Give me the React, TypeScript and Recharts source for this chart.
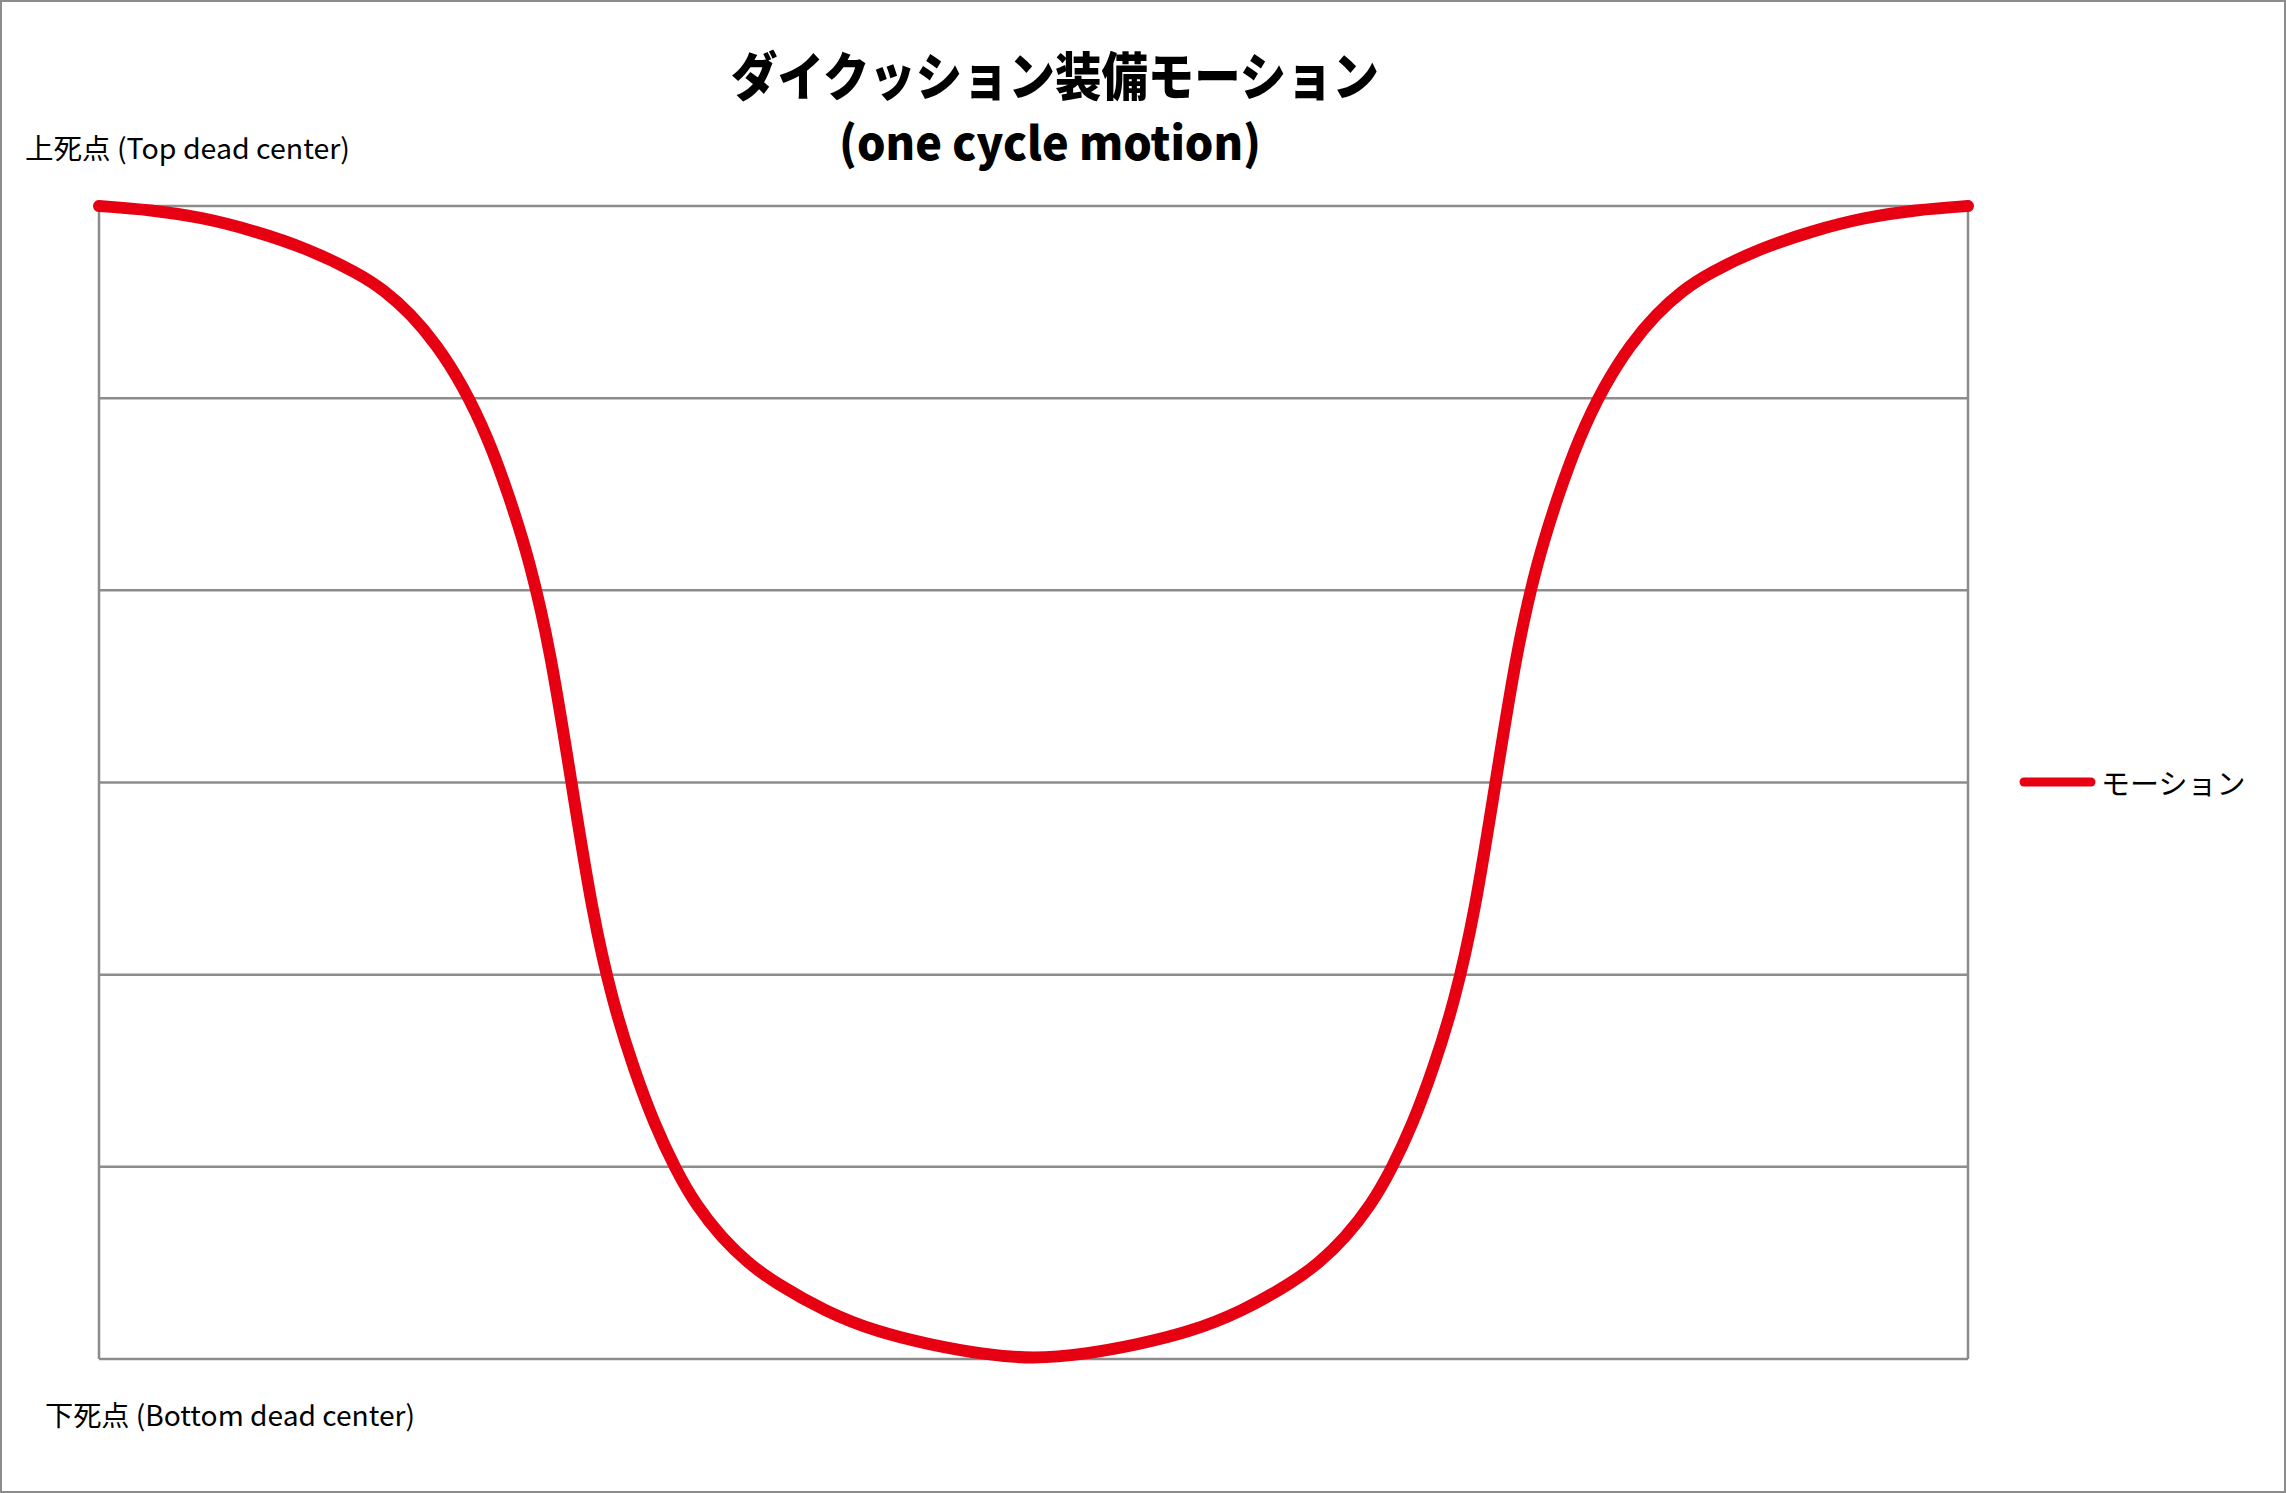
import React from 'react';
import { LineChart, Line, XAxis, YAxis, CartesianGrid, Legend } from 'recharts';

// crank angle (degrees) over one cycle
const angles = [
  0, 10, 20, 30, 40, 50, 55, 60, 65, 70, 75, 79, 83, 87, 91, 95, 99, 103, 107, 111, 115, 120, 125, 130, 140, 150,
  160, 170, 180, 190, 200, 210, 220, 230, 235, 240, 245, 249, 253, 257, 261, 265, 269, 273, 277, 281, 285, 290,
  295, 300, 305, 310, 320, 330, 340, 350, 360,
];
// slide position (6 = top dead center, 0 = bottom dead center)
const motion = [
  6.0, 5.98, 5.94, 5.87, 5.78, 5.65, 5.56, 5.44, 5.28, 5.07, 4.79, 4.49, 4.15, 3.68, 3.0, 2.32, 1.85, 1.51, 1.22,
  0.99, 0.8, 0.63, 0.5, 0.4, 0.245, 0.14, 0.075, 0.025, 0.0, 0.025, 0.075, 0.14, 0.245, 0.4, 0.5, 0.63, 0.8, 0.99,
  1.22, 1.51, 1.85, 2.32, 3.0, 3.68, 4.15, 4.49, 4.79, 5.07, 5.28, 5.44, 5.56, 5.65, 5.78, 5.87, 5.94, 5.98, 6.0,
];
const yTicks = [0, 1, 2, 3, 4, 5, 6];
const xTicks = [0, 360];

const titleLine1 = 'ダイクッション装備モーション';
const titleLine2 = '(one cycle motion)';
const topLabel = '上死点 (Top dead center)';
const bottomLabel = '下死点 (Bottom dead center)';
const seriesName = 'モーション';

const RED = '#e60012';
const GRID = '#8c8c8c';
const FONT = '"Noto Sans CJK JP", "Noto Sans", sans-serif';

const data = angles.map((a, i) => ({ angle: a, motion: motion[i] }));

const renderLegend = () => (
  <div style={{ display: 'flex', alignItems: 'center', fontFamily: FONT, fontSize: 29, lineHeight: '40px', color: '#000', whiteSpace: 'nowrap' }}>
    <svg width={84} height={40} style={{ display: 'block' }}>
      <line x1={8} y1={20} x2={75} y2={20} stroke={RED} strokeWidth={9} strokeLinecap="round" />
    </svg>
    <span style={{ marginLeft: 1 }}>{seriesName}</span>
  </div>
);

export default function App() {
  return (
    <div
      style={{
        position: 'absolute',
        left: 0,
        top: 0,
        width: 2286,
        height: 1493,
        background: '#fff',
        border: `2px solid ${GRID}`,
        boxSizing: 'border-box',
        overflow: 'hidden',
      }}
    >
      <div style={{ position: 'absolute', left: -2, top: -2 }}>
        <LineChart width={2286} height={1493} data={data} margin={{ top: 206, right: 318, bottom: 134, left: 99 }}>
          <XAxis dataKey="angle" type="number" domain={[0, 360]} ticks={xTicks} hide />
          <YAxis type="number" domain={[0, 6]} ticks={yTicks} hide />
          <CartesianGrid stroke={GRID} strokeWidth={2.5} />
          <Legend
            layout="horizontal"
            verticalAlign="middle"
            align="center"
            content={renderLegend}
            wrapperStyle={{ left: 2016, top: 762, width: 260, height: 40 }}
          />
          <Line
            type="basis"
            dataKey="motion"
            name={seriesName}
            stroke={RED}
            strokeWidth={12}
            strokeLinecap="round"
            strokeLinejoin="round"
            dot={false}
            activeDot={false}
            isAnimationActive={false}
          />
        </LineChart>
        <svg
          width={2286}
          height={1493}
          style={{ position: 'absolute', left: 0, top: 0, pointerEvents: 'none' }}
        >
          <text x={1055} y={96} textAnchor="middle" fontFamily={FONT} fontWeight={900} fontSize={52} textLength={648} lengthAdjust="spacingAndGlyphs" fill="#000">
            {titleLine1}
          </text>
          <text x={1050} y={160} textAnchor="middle" fontFamily={FONT} fontWeight={900} fontSize={46} textLength={422} lengthAdjust="spacingAndGlyphs" fill="#000">
            {titleLine2}
          </text>
          <text x={25} y={159} fontFamily={FONT} fontSize={28} textLength={325} lengthAdjust="spacingAndGlyphs" fill="#000">
            {topLabel}
          </text>
          <text x={45} y={1426} fontFamily={FONT} fontSize={28} textLength={370} lengthAdjust="spacingAndGlyphs" fill="#000">
            {bottomLabel}
          </text>
        </svg>
      </div>
    </div>
  );
}
